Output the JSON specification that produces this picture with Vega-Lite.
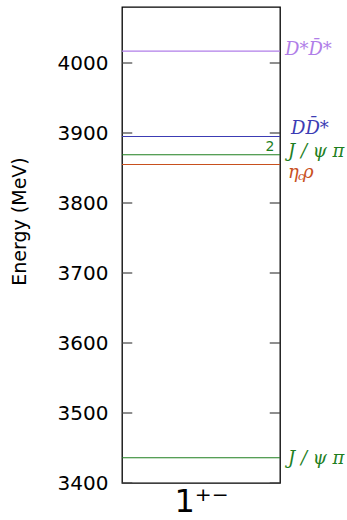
{
  "$schema": "https://vega.github.io/schema/vega-lite/v6.json",
  "autosize": "none",
  "width": 158,
  "height": 476,
  "padding": {"left": 122, "top": 7, "right": 67, "bottom": 37},
  "background": "white",
  "config": {
    "view": {"stroke": "black", "strokeWidth": 1.3},
    "font": "DejaVu Sans"
  },
  "data": {
    "values": [
      {"channel": "D*D̄*", "E": 4017, "label": "D*D̄*", "deg": ""},
      {"channel": "DD̄*", "E": 3895, "label": "DD̄*", "deg": ""},
      {"channel": "J/ψπ", "E": 3869, "label": "J / ψ π", "deg": "2"},
      {"channel": "ηcρ", "E": 3855, "label": "η", "deg": ""},
      {"channel": "J/ψπ", "E": 3436, "label": "J / ψ π", "deg": ""}
    ]
  },
  "encoding": {
    "y": {
      "field": "E",
      "type": "quantitative",
      "scale": {"domain": [3400, 4080], "nice": false, "zero": false},
      "axis": {
        "values": [3400, 3500, 3600, 3700, 3800, 3900, 4000],
        "format": "d",
        "title": "Energy (MeV)",
        "titleFont": "DejaVu Sans",
        "titleFontSize": 19,
        "titleFontWeight": "normal",
        "titleColor": "black",
        "titleAngle": 270,
        "titleAlign": "center",
        "titleBaseline": "middle",
        "titleX": -103,
        "titleY": 214,
        "labelFont": "DejaVu Sans",
        "labelFontSize": 20,
        "labelColor": "black",
        "labelPadding": 14,
        "ticks": false,
        "domain": false,
        "grid": false
      }
    },
    "color": {
      "field": "channel",
      "type": "nominal",
      "scale": {
        "domain": ["D*D̄*", "DD̄*", "J/ψπ", "ηcρ"],
        "range": ["#b07ee8", "#3c3cb4", "#1f7f1f", "#c8501e"]
      },
      "legend": null
    }
  },
  "layer": [
    {
      "mark": {"type": "rule", "strokeWidth": 1.1},
      "encoding": {
        "x": {
          "datum": 0,
          "type": "quantitative",
          "scale": {"domain": [0, 1]},
          "axis": {
            "labels": false,
            "ticks": false,
            "domain": false,
            "grid": false,
            "title": "1⁺⁻",
            "titleFont": "DejaVu Sans",
            "titleFontSize": 32,
            "titleFontWeight": "normal",
            "titleColor": "black",
            "titlePadding": 3
          }
        },
        "x2": {"datum": 1}
      }
    },
    {
      "mark": {"type": "rule", "strokeWidth": 1.2},
      "data": {"values": [{"E": 3400}, {"E": 3500}, {"E": 3600}, {"E": 3700}, {"E": 3800}, {"E": 3900}, {"E": 4000}]},
      "encoding": {
        "x": {"datum": 0.935, "type": "quantitative"},
        "x2": {"datum": 1},
        "color": {"value": "#444"}
      }
    },
    {
      "mark": {"type": "rule", "strokeWidth": 1.2},
      "data": {"values": [{"E": 3400}, {"E": 3500}, {"E": 3600}, {"E": 3700}, {"E": 3800}, {"E": 3900}, {"E": 4000}]},
      "encoding": {
        "x": {"datum": 0, "type": "quantitative"},
        "x2": {"datum": 0.065},
        "color": {"value": "#444"}
      }
    },
    {
      "transform": [{"filter": "datum.E == 4017"}],
      "mark": {"type": "text", "align": "left", "baseline": "middle", "dx": 5, "dy": -1, "font": "DejaVu Serif", "fontStyle": "italic", "fontSize": 18},
      "encoding": {"x": {"datum": 1, "type": "quantitative"}, "text": {"field": "label"}}
    },
    {
      "transform": [{"filter": "datum.E == 3895"}],
      "mark": {"type": "text", "align": "left", "baseline": "middle", "dx": 11, "dy": -8, "font": "DejaVu Serif", "fontStyle": "italic", "fontSize": 18},
      "encoding": {"x": {"datum": 1, "type": "quantitative"}, "text": {"field": "label"}}
    },
    {
      "transform": [{"filter": "datum.E == 3869"}],
      "mark": {"type": "text", "align": "left", "baseline": "middle", "dx": 8, "dy": -3, "font": "DejaVu Serif", "fontStyle": "italic", "fontSize": 18},
      "encoding": {"x": {"datum": 1, "type": "quantitative"}, "text": {"field": "label"}}
    },
    {
      "transform": [{"filter": "datum.E == 3869"}],
      "mark": {"type": "text", "align": "center", "baseline": "bottom", "dx": -10, "dy": -1, "font": "DejaVu Sans", "fontSize": 14},
      "encoding": {"x": {"datum": 1, "type": "quantitative"}, "text": {"field": "deg"}}
    },
    {
      "transform": [{"filter": "datum.E == 3855"}],
      "mark": {"type": "text", "align": "left", "baseline": "middle", "dx": 8, "dy": 8, "font": "DejaVu Serif", "fontStyle": "italic", "fontSize": 18},
      "encoding": {"x": {"datum": 1, "type": "quantitative"}, "text": {"field": "label"}}
    },
    {
      "transform": [{"filter": "datum.E == 3855"}],
      "mark": {"type": "text", "align": "left", "baseline": "middle", "dx": 18, "dy": 12, "font": "DejaVu Serif", "fontStyle": "italic", "fontSize": 11, "text": "c"},
      "encoding": {"x": {"datum": 1, "type": "quantitative"}}
    },
    {
      "transform": [{"filter": "datum.E == 3855"}],
      "mark": {"type": "text", "align": "left", "baseline": "middle", "dx": 23, "dy": 8, "font": "DejaVu Serif", "fontStyle": "italic", "fontSize": 18, "text": "ρ"},
      "encoding": {"x": {"datum": 1, "type": "quantitative"}}
    },
    {
      "transform": [{"filter": "datum.E == 3436"}],
      "mark": {"type": "text", "align": "left", "baseline": "middle", "dx": 8, "dy": 1, "font": "DejaVu Serif", "fontStyle": "italic", "fontSize": 18},
      "encoding": {"x": {"datum": 1, "type": "quantitative"}, "text": {"field": "label"}}
    }
  ]
}
